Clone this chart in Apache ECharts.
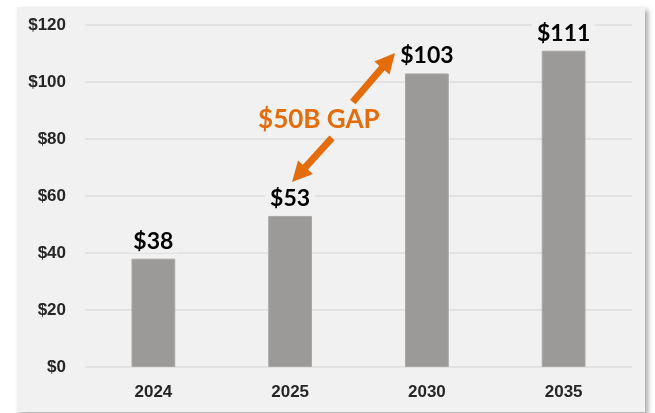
<!DOCTYPE html>
<html>
<head>
<meta charset="UTF-8">
<style>
body{
	margin:0;
	background:#ffffff;
}
#main{
	position:absolute;
	left:17px;
	top:7px;
	width:628px;
	height:405px;
	background:#f1f1f1;
	box-shadow:3px 3px 5px rgba(0,0,0,0.35);
}
</style>
<title>Gap chart</title>
</head>
<body>
<div id="main"></div>
<script src="https://cdn.jsdelivr.net/npm/echarts@6/dist/echarts.min.js"></script>
<script type="text/javascript">
var years = ['2024', '2025', '2030', '2035'];
var values = [38, 53, 103, 111];
var yTicks = [0, 20, 40, 60, 80, 100, 120];

// annotation, in data space: [category position, value]
var gapText = '$50B GAP';
var gapTextAt = [1.21, 86.7];
var gapArrows = [
	{from: [1.458, 93.0], to: [1.767, 110.2]},
	{from: [1.306, 80.4], to: [1.014, 64.9]}
];

var chart = echarts.init(document.getElementById('main'));

chart.setOption({
	animation: false,
	grid: {left: 68, right: 13, top: 18, bottom: 45},
	xAxis: {
		type: 'category',
		data: years,
		axisLine: {show: false},
		axisTick: {show: false},
		axisLabel: {
			margin: 17,
			color: '#262626',
			fontFamily: 'Liberation Sans',
			fontWeight: 'bold',
			fontSize: 17
		}
	},
	yAxis: {
		type: 'value',
		min: yTicks[0],
		max: yTicks[yTicks.length - 1],
		interval: 20,
		axisLine: {show: false},
		axisTick: {show: false},
		splitLine: {lineStyle: {color: '#dcdcdc', width: 1.5}},
		axisLabel: {
			margin: 19,
			color: '#262626',
			fontFamily: 'Liberation Sans',
			fontWeight: 'bold',
			fontSize: 17,
			formatter: function(v){ return '$' + v; }
		}
	},
	series: [{
		type: 'bar',
		data: values,
		barWidth: '32%',
		itemStyle: {color: '#9b9a98', borderColor: '#a8a7a5', borderWidth: 1},
		label: {
			show: true,
			position: 'top',
			distance: 6,
			formatter: function(p){ return '$' + p.value; },
			color: '#000000',
			fontFamily: 'Lato',
			fontWeight: 'bold',
			fontSize: 23,
			backgroundColor: '#f1f1f1',
			padding: [0, 5]
		}
	}]
});

// data space -> pixel, category axis interpolated between slots
function toPx(pt){
	var x0 = chart.convertToPixel({xAxisIndex: 0}, 0);
	var x1 = chart.convertToPixel({xAxisIndex: 0}, 1);
	return [x0 + (x1 - x0) * pt[0], chart.convertToPixel({yAxisIndex: 0}, pt[1])];
}

function arrow(a, b){
	var dx = b[0] - a[0], dy = b[1] - a[1];
	var len = Math.sqrt(dx * dx + dy * dy);
	var ux = dx / len, uy = dy / len;
	var headLen = 20, headHalf = 10;
	var bx = b[0] - ux * headLen, by = b[1] - uy * headLen;
	return [{
		type: 'line',
		shape: {x1: a[0], y1: a[1], x2: bx + ux * 2, y2: by + uy * 2},
		style: {stroke: '#e46c0a', lineWidth: 7},
		z: 10
	}, {
		type: 'polygon',
		shape: {points: [b, [bx - uy * headHalf, by + ux * headHalf], [bx + uy * headHalf, by - ux * headHalf]]},
		style: {fill: '#e46c0a'},
		z: 10
	}];
}

var els = [];
gapArrows.forEach(function(g){
	els = els.concat(arrow(toPx(g.from), toPx(g.to)));
});
var tp = toPx(gapTextAt);
els.push({
	type: 'text',
	x: tp[0],
	y: tp[1],
	z: 10,
	style: {
		text: gapText,
		fill: '#e46c0a',
		font: 'bold 26px Lato',
		align: 'center',
		verticalAlign: 'middle'
	}
});
chart.setOption({graphic: els});
</script>
</body>
</html>
